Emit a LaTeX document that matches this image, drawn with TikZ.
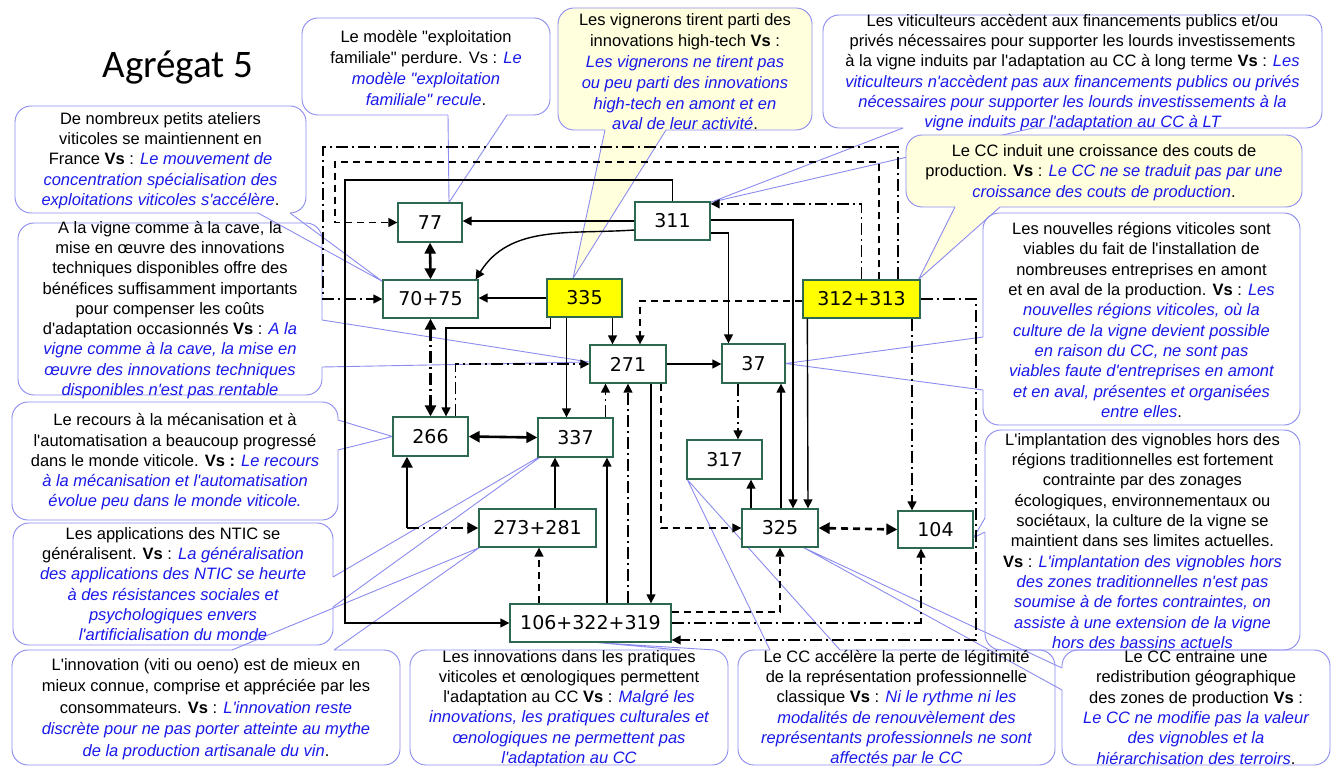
\documentclass[tikz,border=0pt]{standalone}
\usepackage{fontspec}
\setmainfont{Liberation Sans}[Ligatures=TeXOff]
\newfontfamily\numfont{DejaVu Sans}
\newfontfamily\titlefont{Carlito}
\usetikzlibrary{arrows.meta,calc}
\definecolor{vsblue}{RGB}{25,25,235}
\definecolor{callblue}{RGB}{140,140,240}
\definecolor{boxgreen}{RGB}{45,105,80}
\definecolor{noteyellow}{RGB}{255,255,222}
\definecolor{hiyellow}{RGB}{255,255,0}
\newcommand\vsit[1]{\textcolor{vsblue}{\itshape #1}}
\pgfdeclarelayer{background}
\pgfsetlayers{background,main}
\begin{document}
\begin{tikzpicture}[x=1pt,y=-1pt,
  box/.style={draw=boxgreen, line width=1.3pt, fill=white, inner sep=0pt,
    font=\numfont\fontsize{19}{22}\selectfont, minimum height=38pt},
  hibox/.style={box, fill=hiyellow},
  note/.style={draw=callblue, line width=0.9pt, rounded corners=16pt},
  notetext/.style={align=center, inner sep=0pt, font=\fontsize{16.5}{20.3}\selectfont},
  tail/.style={draw=callblue, line width=0.9pt},
  link/.style={line width=1.4pt, -{Triangle[length=9pt,width=9pt]}},
  both/.style={line width=2.6pt, {Triangle[length=11pt,width=11pt]}-{Triangle[length=11pt,width=11pt]}},
  dsh/.style={dash pattern=on 7pt off 5pt},
  dd/.style={dash pattern=on 12pt off 4pt on 2pt off 4pt}]
\useasboundingbox (0,0) rectangle (1335,767);

% ---- boxes of the network ----
\node[box, minimum width=64pt, minimum height=39pt] (n77) at (430,222.5) {77};
\node[box, minimum width=75pt] (n311) at (672.5,221) {311};
\node[box, minimum width=95pt] (n7075) at (430.5,299) {70+75};
\node[hibox, minimum width=75pt] (n335) at (584.5,298) {335};
\node[hibox, minimum width=117pt] (n312) at (861.5,299) {312+313};
\node[box, minimum width=76pt] (n271) at (628,364) {271};
\node[box, minimum width=63pt, minimum height=39pt] (n37) at (753.5,363.5) {37};
\node[box, minimum width=75pt, minimum height=39pt] (n266) at (430.5,436.5) {266};
\node[box, minimum width=75pt, minimum height=39pt] (n337) at (575.5,437.5) {337};
\node[box, minimum width=75pt, minimum height=39pt] (n317) at (724.5,459.5) {317};
\node[box, minimum width=76pt] (n325) at (780,528) {325};
\node[box, minimum width=75pt, minimum height=37pt] (n104) at (935.5,529.5) {104};
\node[box, minimum width=117pt] (n273) at (537.5,528) {273+281};
\node[box, minimum width=161pt] (n106) at (590.5,623) {106+322+319};

% ---- title ----
\node[font=\titlefont\fontsize{39}{44}\selectfont] (title) at (178,68) {Agrégat 5};

% ---- bend points of the long connectors ----
\coordinate (frameA) at (323,147);
\coordinate (frameB) at (335,162);
\coordinate (frameC) at (345,180);
\coordinate (bendA) at (446,328);
\coordinate (bendB) at (407,528);
\coordinate (bendC) at (976,640);

% ---- connectors ----
\draw[link, dd] ($(n312.north)+(36.5,0)$) |- (frameA) |- (n7075.west);
\draw[link, dsh] ($(n312.north)+(17.5,0)$) |- (frameB) |- (n77.west);
\draw[link, dd] (n312.north) |- ($(n311.north east)+(0,2.5)$);
\draw[link] (n311.north) |- (frameC) |- (n106.west);
\draw[link] (n311.west) -- (n311.west -| n77.east);
\draw[link] ($(n311.west)+(0,9)$) to[out=184,in=58] ($(n7075.north east)+(-3,0)$);
\draw[both] (n77.south) -- (n7075.north);
\draw[link] (n335.west) -- (n335.west -| n7075.east);
\draw[link] ($(n311.east)+(0,-1)$) -| ($(n325.north)+(13,0)$);
\draw[link] ($(n311.east)+(0,12)$) -| ($(n37.north)+(-25,0)$);
\draw[link] ($(n312.south west)+(5,0)$) -- ($(n325.north)+(28,0)$);
\draw[link, dsh] ($(n312.west)+(0,2)$) -| ($(n271.north)+(12,0)$);
\draw[link] ($(n335.south)+(28,0)$) -- ($(n271.north)+(-15.5,0)$);
\draw[link] ($(n335.south)+(-18,0)$) -- ($(n337.north)+(-9,0)$);
\draw[link] ($(n335.south west)+(4,0)$) |- (bendA) -- (bendA |- n266.north);
\draw[both, dd] (n7075.south) -- (n266.north);
\draw[link, dd] ($(n266.north)+(25,0)$) |- (n271.west);
\draw[both] (n266.east) -- (n337.west);
\draw[link, dd] ($(n337.north)+(30,0)$) -- ($(n271.south)+(-22.5,0)$);
\draw[link, dd] (n106.north -| n271.south) -- (n271.south);
\draw[link] ($(n271.south)+(23,0)$) -- ($(n106.north)+(60.5,0)$);
\draw[link, dsh] ($(n271.south)+(33,0)$) |- (n325.west);
\draw[link] ($(n106.north)+(16.5,0)$) -- ($(n337.south)+(31.5,0)$);
\draw[link] ($(n273.north)+(17.5,0)$) -- ($(n337.south)+(-20.5,0)$);
\draw[line width=2.6pt, -{Triangle[length=11pt,width=11pt]}] (bendB) -- (bendB |- n266.south);
\draw[line width=2.6pt, dd, -{Triangle[length=11pt,width=11pt]}] (bendB) -- (n273.west);
\draw[link, dsh] ($(n106.north)+(-51.5,0)$) -- ($(n273.south)+(1.5,0)$);
\draw[link, dsh] ($(n106.east)+(0,-11)$) -| (n325.south);
\draw[link, dd] (n106.east) -| ($(n104.south)+(-14.5,0)$);
\draw[link, dd] (n312.east) -| (bendC) -- (bendC -| n106.east);
\draw[link, dd] ($(n312.south)+(50.5,0)$) -- ($(n104.north)+(-23.5,0)$);
\draw[link, dd] ($(n37.south)+(-15.5,0)$) -- ($(n317.north)+(13.5,0)$);
\draw[link] ($(n325.north)+(-29,0)$) -- ($(n317.south)+(26.5,0)$);
\draw[link] ($(n325.north)+(1,0)$) -- ($(n37.south)+(27.5,0)$);
\draw[link] (n271.east) -- (n271.east -| n37.west);
\draw[both, dsh] (n325.east) -- (n104.west);

% ---- callouts, behind the network ----
\begin{pgfonlayer}{background}
\fill[white] (0,0) rectangle (1335,767);
% Le modele exploitation familiale
\draw[note] (302,18) rectangle (550,115);
\draw[white, line width=2pt] (448,115) -- (507,115);
\draw[tail] (448,115) -- ($(n77.north)+(19,0)$) -- (507,115);
% Les vignerons (yellow)
\draw[note, fill=noteyellow] (558,8) rectangle (812,130);
\fill[noteyellow] (605,130) -- ($(n335.north)+(-11.5,0)$) -- (666,130) -- cycle;
\draw[noteyellow, line width=2pt] (605,130) -- (666,130);
\draw[tail] (605,130) -- ($(n335.north)+(-11.5,0)$) -- (666,130);
% Les viticulteurs
\draw[note] (823,15) rectangle (1322,128);
\draw[white, line width=2pt] (903,128) -- (1033,128);
\draw[tail] (903,128) -- ($(n311.north east)+(0,1)$) -- (1033,128);
% Le CC induit (yellow)
\draw[note, fill=noteyellow] (906,135) rectangle (1302,207);
\fill[noteyellow] (955,207) -- ($(n312.north east)+(-2,0)$) -- (1000,207) -- cycle;
\draw[noteyellow, line width=2pt] (955,207) -- (1000,207);
\draw[tail] (955,207) -- ($(n312.north east)+(-2,0)$) -- (1000,207);
% Les nouvelles regions
\draw[note] (983,213) rectangle (1300,425);
\draw[white, line width=2pt] (983,337) -- (983,390);
\draw[tail] (983,337) -- (n37.east) -- (983,390);
% L'implantation
\draw[note] (985,430) rectangle (1300,650);
\draw[white, line width=2pt] (985,518) -- (985,532);
\draw[tail] (985,518) -- ($(n104.east)+(0,8)$) -- (985,532);
% Le CC entraine
\draw[note] (1062,650) rectangle (1330,765);
\draw[white, line width=2pt] (1062,668) -- (1062,690);
\draw[tail] (1062,668) -- ($(n325.south east)+(-15,0)$) -- (1062,690);
% Le CC accelere
\draw[note] (738,650) rectangle (1055,765);
\draw[white, line width=2pt] (770,650) -- (840,650);
\draw[tail] (770,650) -- ($(n317.south west)+(1,0)$) -- (840,650);
% Les innovations dans les pratiques
\draw[note] (410,650) rectangle (728,765);
\draw[white, line width=2pt] (680,650) -- (715,650);
\draw[tail] (680,650) -- ($(n106.south)+(7.5,0)$) -- (715,650);
% L'innovation (viti ou oeno)
\draw[note] (12,650) rectangle (400,765);
\draw[white, line width=2pt] (232,650) -- (334,650);
\draw[tail] (232,650) -- ($(n273.south west)+(1,0)$) -- (334,650);
% Les applications des NTIC
\draw[note] (13,523) rectangle (333,645);
\draw[white, line width=2pt] (333,577) -- (333,607);
\draw[tail] (333,577) -- ($(n337.south west)+(9,-5)$) -- (333,607);
% Le recours a la mecanisation
\draw[note] (12,402) rectangle (338,520);
\draw[white, line width=2pt] (338,420) -- (338,450);
\draw[tail] (338,420) -- (n266.west) -- (338,450);
% A la vigne comme a la cave
\draw[note] (18,223) rectangle (322,395);
\draw[white, line width=2pt] (322,320) -- (322,367);
\draw[tail] (322,320) -- ($(n271.west)+(0,-2)$) -- (322,367);
% De nombreux petits ateliers
\draw[note] (15,106) rectangle (306,213);
\draw[white, line width=2pt] (258,213) -- (290,213);
\draw[tail] (258,213) -- ($(n7075.north west)+(0,2)$) -- (290,213);
\end{pgfonlayer}

% ---- callout texts ----
\node[notetext, font=\fontsize{16.5}{21.3}\selectfont] (t1) at (426,68)
  {Le modèle "exploitation\\ familiale" perdure. Vs : \vsit{Le}\\ \vsit{modèle "exploitation}\\ \vsit{familiale" recule}.};
\node[notetext, font=\fontsize{16.5}{20.8}\selectfont] (t2) at (685,72)
  {Les vignerons tirent parti des\\ innovations high-tech \textbf{Vs} :\\ \vsit{Les vignerons ne tirent pas}\\ \vsit{ou peu parti des innovations}\\ \vsit{high-tech en amont et en}\\ \vsit{aval de leur activité}.};
\node[notetext] (t3) at (1072.5,72.5)
  {Les viticulteurs accèdent aux financements publics et/ou\\ privés nécessaires pour supporter les lourds investissements\\ à la vigne induits par l'adaptation au CC à long terme \textbf{Vs} : \vsit{Les}\\ \vsit{viticulteurs n'accèdent pas aux financements publics ou privés}\\ \vsit{nécessaires pour supporter les lourds investissements à la}\\ \vsit{vigne induits par l'adaptation au CC à LT}};
\node[notetext] (t4) at (1104,172.5)
  {Le CC induit une croissance des couts de\\ production. \textbf{Vs} : \vsit{Le CC ne se traduit pas par une}\\ \vsit{croissance des couts de production}.};
\node[notetext] (t5) at (1141.5,320)
  {Les nouvelles régions viticoles sont\\ viables du fait de l'installation de\\ nombreuses entreprises en amont\\ et en aval de la production. \textbf{Vs} : \vsit{Les}\\ \vsit{nouvelles régions viticoles, où la}\\ \vsit{culture de la vigne devient possible}\\ \vsit{en raison du CC, ne sont pas}\\ \vsit{viables faute d'entreprises en amont}\\ \vsit{et en aval, présentes et organisées}\\ \vsit{entre elles}.};
\node[notetext] (t6) at (1142.5,541)
  {L'implantation des vignobles hors des\\ régions traditionnelles est fortement\\ contrainte par des zonages\\ écologiques, environnementaux ou\\ sociétaux, la culture de la vigne se\\ maintient dans ses limites actuelles.\\ \textbf{Vs} : \vsit{L'implantation des vignobles hors}\\ \vsit{des zones traditionnelles n'est pas}\\ \vsit{soumise à de fortes contraintes, on}\\ \vsit{assiste à une extension de la vigne}\\ \vsit{hors des bassins actuels}};
\node[notetext] (t7) at (1196,707.5)
  {Le CC entraine une\\ redistribution géographique\\ des zones de production \textbf{Vs} :\\ \vsit{Le CC ne modifie pas la valeur}\\ \vsit{des vignobles et la}\\ \vsit{hiérarchisation des terroirs}.};
\node[notetext] (t8) at (896.5,708.5)
  {Le CC accélère la perte de légitimité\\ de la représentation professionnelle\\ classique \textbf{Vs} : \vsit{Ni le rythme ni les}\\ \vsit{modalités de renouvèlement des}\\ \vsit{représentants professionnels ne sont}\\ \vsit{affectés par le CC}};
\node[notetext] (t9) at (569,708.5)
  {Les innovations dans les pratiques\\ viticoles et œnologiques permettent\\ l'adaptation au CC \textbf{Vs} : \vsit{Malgré les}\\ \vsit{innovations, les pratiques culturales et}\\ \vsit{œnologiques ne permettent pas}\\ \vsit{l'adaptation au CC}};
\node[notetext, font=\fontsize{16.5}{21.5}\selectfont] (t10) at (206,709)
  {L'innovation (viti ou oeno) est de mieux en\\ mieux connue, comprise et appréciée par les\\ consommateurs. \textbf{Vs} : \vsit{L'innovation reste}\\ \vsit{discrète pour ne pas porter atteinte au mythe}\\ \vsit{de la production artisanale du vin}.};
\node[notetext] (t11) at (173,584)
  {Les applications des NTIC se\\ généralisent. \textbf{Vs} : \vsit{La généralisation}\\ \vsit{des applications des NTIC se heurte}\\ \vsit{à des résistances sociales et}\\ \vsit{psychologiques envers}\\ \vsit{l'artificialisation du monde}};
\node[notetext] (t12) at (175,462)
  {Le recours à la mécanisation et à\\ l'automatisation a beaucoup progressé\\ dans le monde viticole. \textbf{Vs :} \vsit{Le recours}\\ \vsit{à la mécanisation et l'automatisation}\\ \vsit{évolue peu dans le monde viticole.}};
\node[notetext] (t13) at (170,310)
  {A la vigne comme à la cave, la\\ mise en œuvre des innovations\\ techniques disponibles offre des\\ bénéfices suffisamment importants\\ pour compenser les coûts\\ d'adaptation occasionnés \textbf{Vs} : \vsit{A la}\\ \vsit{vigne comme à la cave, la mise en}\\ \vsit{œuvre des innovations techniques}\\ \vsit{disponibles n'est pas rentable}};
\node[notetext] (t14) at (160.5,160.5)
  {De nombreux petits ateliers\\ viticoles se maintiennent en\\ France \textbf{Vs} : \vsit{Le mouvement de}\\ \vsit{concentration spécialisation des}\\ \vsit{exploitations viticoles s'accélère}.};
\end{tikzpicture}
\end{document}
